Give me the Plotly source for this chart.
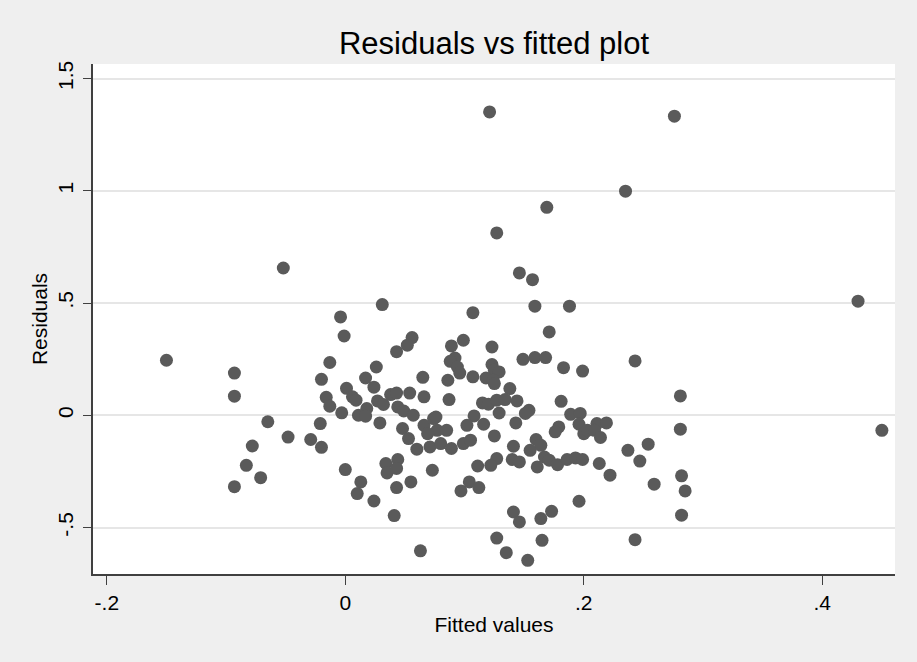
import plotly.graph_objects as go

fitted = [
    -0.150, -0.093, -0.093, -0.052, -0.065, -0.078, -0.083, -0.071, -0.093, -0.048,
    0.031, -0.004, -0.001, 0.056, 0.052, 0.043, -0.013, 0.026, -0.020, 0.017,
    0.065, 0.024, 0.001, -0.016, 0.006, 0.009, -0.013, -0.003, 0.011, 0.018,
    0.027, 0.032, 0.038, 0.043, 0.054, 0.066, 0.044, 0.049, 0.057, -0.021,
    0.029, 0.017, -0.029, -0.020, 0.000, 0.013, 0.010, 0.024, 0.034, 0.035,
    0.044, 0.043, 0.043, 0.055, 0.041, 0.063, 0.073, 0.048, 0.053, 0.060,
    0.066, 0.071, 0.074, 0.077, 0.069, 0.121, 0.169, 0.127, 0.146, 0.157,
    0.159, 0.188, 0.107, 0.171, 0.089, 0.099, 0.123, 0.149, 0.159, 0.168,
    0.092, 0.088, 0.094, 0.096, 0.123, 0.125, 0.129, 0.107, 0.118, 0.124,
    0.125, 0.183, 0.199, 0.086, 0.138, 0.087, 0.115, 0.120, 0.127, 0.134,
    0.144, 0.129, 0.154, 0.151, 0.181, 0.189, 0.197, 0.076, 0.108, 0.143,
    0.102, 0.116, 0.179, 0.196, 0.085, 0.080, 0.089, 0.099, 0.105, 0.125,
    0.176, 0.200, 0.141, 0.160, 0.164, 0.155, 0.140, 0.146, 0.127, 0.122,
    0.111, 0.161, 0.167, 0.171, 0.178, 0.186, 0.193, 0.199, 0.097, 0.104,
    0.112, 0.196, 0.141, 0.146, 0.164, 0.173, 0.127, 0.135, 0.153, 0.165,
    0.276, 0.235, 0.243, 0.281, 0.281, 0.211, 0.219, 0.203, 0.209, 0.214,
    0.254, 0.237, 0.247, 0.213, 0.222, 0.259, 0.282, 0.285, 0.282, 0.243,
    0.430, 0.450,
]

residuals = [
    0.245, 0.188, 0.085, 0.656, -0.029, -0.137, -0.223, -0.278, -0.318, -0.097,
    0.493, 0.438, 0.353, 0.346, 0.312, 0.283, 0.235, 0.215, 0.160, 0.166,
    0.169, 0.125, 0.120, 0.080, 0.082, 0.067, 0.040, 0.011, 0.000, 0.030,
    0.064, 0.048, 0.092, 0.099, 0.099, 0.082, 0.037, 0.019, 0.000, -0.037,
    -0.034, -0.004, -0.108, -0.143, -0.242, -0.297, -0.349, -0.382, -0.215, -0.257,
    -0.197, -0.237, -0.322, -0.297, -0.447, -0.604, -0.245, -0.059, -0.104, -0.151,
    -0.045, -0.141, -0.015, -0.067, -0.082, 1.351, 0.926, 0.812, 0.634, 0.604,
    0.486, 0.486, 0.457, 0.371, 0.309, 0.334, 0.304, 0.249, 0.257, 0.257,
    0.255, 0.240, 0.215, 0.188, 0.226, 0.200, 0.193, 0.171, 0.166, 0.156,
    0.141, 0.212, 0.197, 0.156, 0.119, 0.070, 0.055, 0.049, 0.067, 0.070,
    0.064, 0.010, 0.022, 0.008, 0.062, 0.004, 0.008, -0.008, -0.003, -0.034,
    -0.045, -0.040, -0.052, -0.040, -0.067, -0.126, -0.148, -0.126, -0.111, -0.092,
    -0.074, -0.082, -0.138, -0.108, -0.134, -0.156, -0.197, -0.208, -0.193, -0.223,
    -0.226, -0.230, -0.186, -0.200, -0.220, -0.197, -0.190, -0.197, -0.337, -0.297,
    -0.322, -0.383, -0.431, -0.475, -0.460, -0.428, -0.547, -0.612, -0.646, -0.557,
    1.332, 0.998, 0.242, 0.086, -0.062, -0.037, -0.034, -0.067, -0.067, -0.099,
    -0.129, -0.156, -0.204, -0.215, -0.267, -0.307, -0.270, -0.337, -0.445, -0.554,
    0.508, -0.067,
]

x_ticks = [-0.2, 0, 0.2, 0.4]
x_tick_labels = ["-.2", "0", ".2", ".4"]
y_ticks = [-0.5, 0, 0.5, 1, 1.5]
y_tick_labels = ["-.5", "0", ".5", "1", "1.5"]

font_family = "Liberation Sans, Arial, sans-serif"

fig = go.Figure()
fig.add_trace(go.Scatter(
    x=fitted, y=residuals, mode="markers",
    marker=dict(size=13, color="#5a5a5a", line=dict(width=0)),
    showlegend=False, hoverinfo="x+y",
))

fig.update_layout(
    width=917, height=662,
    margin=dict(l=93, r=22, t=64, b=88),
    paper_bgcolor="#efefef",
    plot_bgcolor="#ffffff",
    font=dict(family=font_family, size=21, color="#000000"),
    title=dict(text="Residuals vs fitted plot", x=0.5387, xanchor="center",
               y=0.935, yanchor="middle", font=dict(size=31, color="#000000")),
)

fig.update_xaxes(
    range=[-0.2116, 0.461], tickvals=x_ticks, ticktext=x_tick_labels,
    showgrid=False, zeroline=False, showline=True, linecolor="#404040", linewidth=1.5,
    ticks="outside", ticklen=9, tickwidth=1.2, tickcolor="#404040",
    tickfont=dict(size=21), ticklabelstandoff=0,
    title=dict(text="Fitted values", font=dict(size=21), standoff=4),
)
fig.update_yaxes(
    range=[-0.7071, 1.5646], tickvals=y_ticks, ticktext=y_tick_labels,
    showgrid=True, gridcolor="#e6e6e6", gridwidth=1.5, zeroline=False,
    showline=True, linecolor="#404040", linewidth=1.5,
    ticks="outside", ticklen=8, tickwidth=1.2, tickcolor="#404040",
    tickangle=-90, tickfont=dict(size=21), ticklabelstandoff=2,
    title=dict(text="Residuals", font=dict(size=21), standoff=0),
)

fig.write_html("out.html")
